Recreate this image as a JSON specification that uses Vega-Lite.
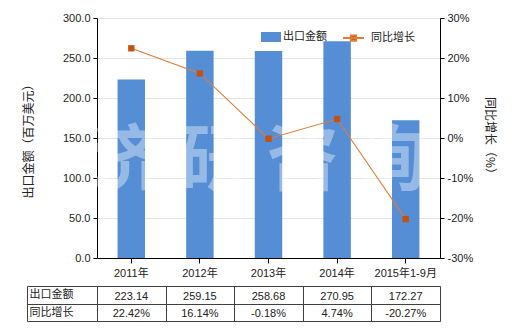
{
  "$schema": "https://vega.github.io/schema/vega-lite/v6.json",
  "background": "white",
  "padding": {"left": 22, "top": 12, "right": 5, "bottom": 5},
  "spacing": 2,
  "config": {
    "font": "Liberation Sans, Noto Sans CJK SC",
    "view": {"stroke": null},
    "locale": {"number": {"decimal": ".", "thousands": ",", "grouping": [3], "currency": ["", ""], "minus": "-"}},
    "axis": {"labelFontSize": 11, "labelColor": "#222222", "titleFont": "Noto Sans CJK SC", "titleFontSize": 12, "titleFontWeight": "normal", "titleColor": "#222222", "domainColor": "#000000", "tickColor": "#000000"},
    "legend": {"padding": 0, "labelFontSize": 11, "labelColor": "#222222", "labelFont": "Noto Sans CJK SC"}
  },
  "datasets": {
    "trade": [
      {"period": "2011年", "amount": 223.14, "growth": 0.2242},
      {"period": "2012年", "amount": 259.15, "growth": 0.1614},
      {"period": "2013年", "amount": 258.68, "growth": -0.0018},
      {"period": "2014年", "amount": 270.95, "growth": 0.0474},
      {"period": "2015年1-9月", "amount": 172.27, "growth": -0.2027}
    ],
    "watermark": [{"text": "济 研 咨 询", "period": "2013年", "level": 120}]
  },
  "vconcat": [
    {
      "width": 343,
      "height": 240,
      "layer": [
        {
          "data": {"name": "trade"},
          "mark": {"type": "bar"},
          "encoding": {
            "x": {"field": "period", "type": "nominal", "sort": null,
              "scale": {"paddingInner": 0.6, "paddingOuter": 0.3},
              "axis": {"title": null, "labelAngle": 0, "tickSize": 5, "labelPadding": 4}},
            "y": {"field": "amount", "type": "quantitative",
              "scale": {"domain": [0, 300]},
              "axis": {"title": "出口金额（百万美元）", "values": [0, 50, 100, 150, 200, 250, 300], "format": ".1f", "grid": true, "gridColor": "#e4e4e4", "tickSize": 4, "labelPadding": 3, "titlePadding": 27}},
            "fill": {"datum": "出口金额", "type": "nominal",
              "scale": {"range": ["#558ED5"]},
              "legend": {"title": null, "orient": "none", "legendX": 164, "legendY": 9, "symbolType": "M-1,-0.5H1V0.5H-1Z", "symbolSize": 400, "labelOffset": 2, "symbolStrokeWidth": 0}}
          }
        },
        {
          "data": {"name": "watermark"},
          "mark": {"type": "text", "font": "Noto Sans CJK SC", "fontSize": 72, "fontWeight": "bold", "color": "white", "opacity": 0.38, "dx": -10, "baseline": "middle"},
          "encoding": {
            "x": {"field": "period", "type": "nominal", "sort": null},
            "y": {"field": "level", "type": "quantitative", "scale": {"domain": [0, 300]}, "axis": null},
            "text": {"field": "text"}
          }
        },
        {
          "data": {"name": "trade"},
          "mark": {"type": "line", "strokeWidth": 1.1},
          "encoding": {
            "x": {"field": "period", "type": "nominal", "sort": null},
            "y": {"field": "growth", "type": "quantitative",
              "scale": {"domain": [-0.3, 0.3]},
              "axis": {"orient": "right", "title": "同比增长（%）", "values": [-0.3, -0.2, -0.1, 0, 0.1, 0.2, 0.3], "format": ".0%", "grid": false, "tickSize": 4, "labelPadding": 3, "titlePadding": 10}},
            "stroke": {"datum": "同比增长", "type": "nominal",
              "scale": {"range": ["#E07B39"]},
              "legend": {"title": null, "orient": "none", "legendX": 245, "legendY": 8.5, "symbolType": "M-1,0H1M-0.25,-0.25H0.25V0.25H-0.25Z", "symbolSize": 441, "symbolStrokeWidth": 2, "labelOffset": 6,
                "encode": {"symbols": {"update": {"fill": {"value": "#C5500F"}, "stroke": {"value": "#C5500F"}}}}}}
          }
        },
        {
          "data": {"name": "trade"},
          "mark": {"type": "point", "shape": "square", "filled": true, "size": 40, "color": "#C5500F", "opacity": 1},
          "encoding": {
            "x": {"field": "period", "type": "nominal", "sort": null},
            "y": {"field": "growth", "type": "quantitative", "scale": {"domain": [-0.3, 0.3]}, "axis": null}
          }
        }
      ],
      "resolve": {"scale": {"y": "independent"}}
    },
    {
      "width": 343,
      "height": 35,
      "data": {"name": "trade"},
      "layer": [
        {
          "mark": {"type": "text", "fontSize": 11, "color": "#222222", "dy": 2},
          "encoding": {
            "x": {"field": "period", "type": "nominal", "sort": null,
              "scale": {"paddingInner": 0, "paddingOuter": 0},
              "axis": {"orient": "top", "title": null, "labels": false, "ticks": false, "domain": false, "grid": true, "gridColor": "#404040", "gridOpacity": 1, "tickBand": "extent"}},
            "y": {"datum": "出口金额", "type": "nominal",
              "scale": {"domain": ["出口金额", "同比增长"], "paddingInner": 0, "paddingOuter": 0},
              "axis": {"title": null, "orient": "left", "offset": 70, "tickSize": -70, "tickBand": "extent", "grid": true, "gridColor": "#404040", "gridOpacity": 1, "tickColor": "#404040", "domainColor": "#404040", "labelAlign": "left", "labelPadding": 68, "labelFont": "Noto Sans CJK SC", "labelFontSize": 11}},
            "text": {"field": "amount", "type": "quantitative", "format": ".2f"}
          }
        },
        {
          "mark": {"type": "text", "fontSize": 11, "color": "#222222", "dy": 2},
          "encoding": {
            "x": {"field": "period", "type": "nominal", "sort": null},
            "y": {"datum": "同比增长", "type": "nominal"},
            "text": {"field": "growth", "type": "quantitative", "format": ".2%"}
          }
        }
      ]
    }
  ]
}
